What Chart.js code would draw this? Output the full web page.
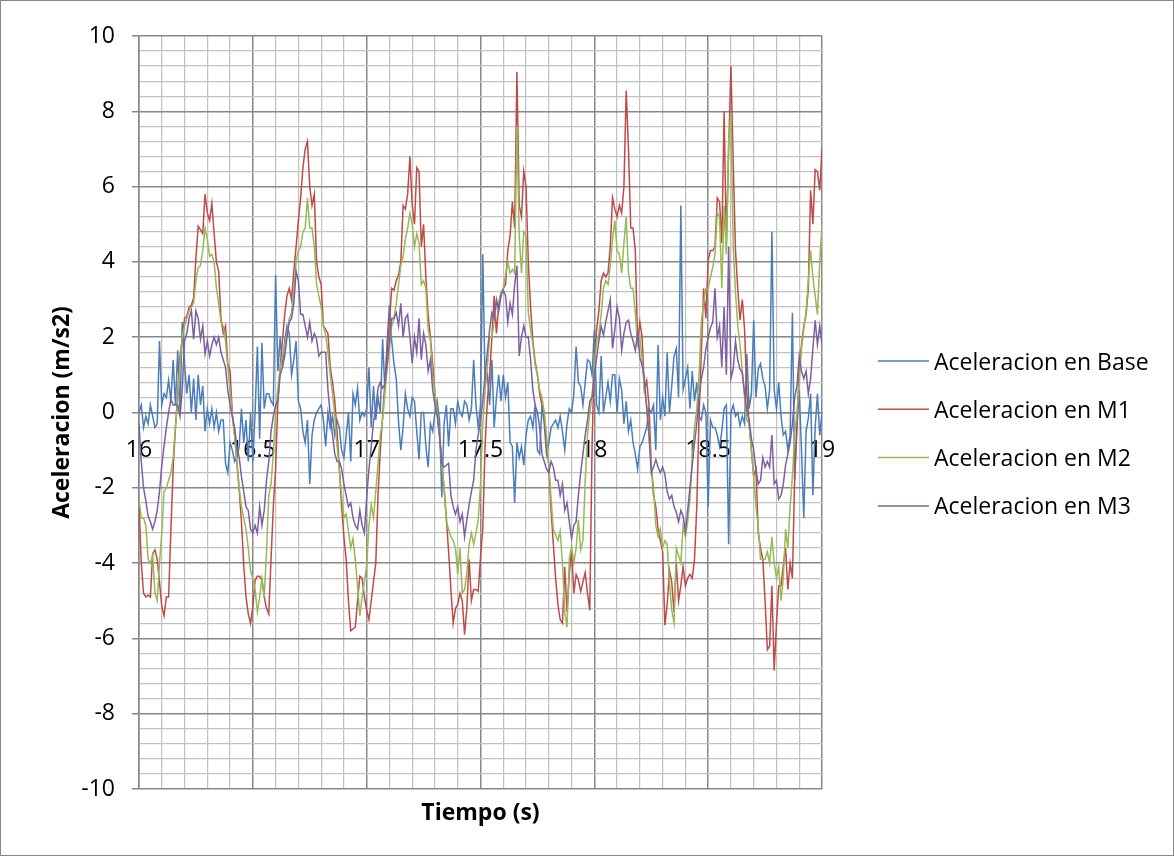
<!DOCTYPE html>
<html lang="es">
<head>
<meta charset="utf-8">
<title>Aceleracion</title>
<script src="https://cdn.jsdelivr.net/npm/chart.js@4.4.1/dist/chart.umd.min.js"></script>
<style>
  html, body { margin: 0; padding: 0; background: #fff; }
  #wrap { width: 1174px; height: 856px; position: relative; }
</style>
</head>
<body>
<div id="wrap"><canvas id="accelChart"></canvas></div>
<script>
/* ===============================
   DATA (sampled every 0.01 s, 16.00 .. 19.00 s)
================================ */
const t0 = 16;
const dt = 0.01;

const seriesNames = ["Aceleracion en Base", "Aceleracion en M1", "Aceleracion en M2", "Aceleracion en M3"];
const seriesColors = ["#4A7EBB", "#BE4B48", "#98B954", "#7D60A0"];

const xTicksMajor = [16, 16.5, 17, 17.5, 18, 18.5, 19];
const yTicksMajor = [-10, -8, -6, -4, -2, 0, 2, 4, 6, 8, 10];

const accBase = [
  0.0, 0.2, -0.4, -0.1, -0.3, 0.2, -0.1, -0.4, -0.3, 1.9,
  0.2, 0.5, 0.4, 0.85, 0.3, 1.4, 0.2, 1.65, 0.0, 2.4,
  1.3, 0.5, 1.0, 0.0, 0.9, -0.2, 1.0, 0.2, 0.7, -0.5,
  0.1, -0.3, 0.1, -0.4, 0.0, -0.5, -0.2, -0.2, -1.35, -1.6,
  -0.8, -1.0, -1.3, -1.2, -0.9, 0.1, -0.8, -0.2, -1.3, 0.0,
  -1.3, 0.0, 1.75, -0.7, 1.85, 0.1, 0.5, 0.5, 0.3, 0.2,
  3.65, 1.1, 2.0, 1.2, 1.9, 2.3, 2.1, 1.0, 1.4, 1.9,
  0.3, 0.1, -0.5, -0.8, -0.2, -1.9, -0.6, -0.2, 0.0, 0.1,
  0.2, -0.2, -0.9, 0.0, -0.4, -0.1, -0.6, -0.2, -0.4, -1.0,
  -1.2, -0.6, 0.0, -1.3, 0.5, 0.2, 0.65, -0.2, 0.0, -0.1,
  0.1, 1.2, -0.4, 0.7, -0.2, 0.4, 0.0, 1.95, 0.6, 1.9,
  2.85, 1.9, 1.3, 0.9, -0.25, -1.0, -0.4, 0.5, 0.1, -0.1,
  0.4, 0.3, -0.5, -1.25, 0.0, 0.0, -0.9, -1.45, -0.3, -0.5,
  0.0, 0.3, -0.2, -2.25, -0.3, 0.2, -0.9, 0.1, 0.1, -0.3,
  0.3, 0.0, -0.1, 0.3, 0.2, -0.2, 0.1, 1.4, 0.2, -0.4,
  0.2, 4.2, 0.8, 1.0, 0.2, 1.4, -0.4, 0.4, 1.0, 0.3,
  1.0, 0.4, 0.8, -0.8, -0.9, -2.4, -0.8, -1.2, -0.9, -1.4,
  -0.6, -0.2, -0.1, -0.4, 0.2, -1.0, -1.1, 0.2, -0.3, -1.1,
  -0.8, -0.4, -0.3, -0.2, -0.4, -0.1, -0.5, -1.0, -0.3, 0.1,
  0.0, 0.5, 1.75, 0.8, 0.7, 0.2, 0.8, 1.4, 1.35, 1.0,
  2.2, 0.2, 0.0, 1.5, 0.0, 0.4, 0.8, 0.3, 1.0, 1.0,
  0.0, 0.9, 0.6, -0.3, 0.3, -0.5, -0.2, -0.8, -1.1, -1.5,
  -0.9, -0.8, -0.6, -0.4, 0.1, 0.0, 0.2, -1.0, 1.8, -0.2,
  0.4, -0.1, 1.6, 0.0, 0.7, 1.5, 1.7, 0.4, 5.5, 0.6,
  0.9, 1.2, 0.1, 1.1, 0.3, 0.8, -0.1, -0.2, 0.2, 0.0,
  -2.5, -0.2, -0.4, -0.4, -0.6, -0.9, -0.5, 0.1, 0.2, -3.5,
  0.0, 0.2, -0.1, 0.0, -0.35, -0.1, -0.3, 1.55, 0.1, 0.5,
  2.45, 0.4, 1.15, 1.3, 0.9, 0.7, 0.1, 0.6, 4.8, 0.6,
  0.1, 0.8, -0.1, -0.6, -0.5, -1.0, -0.6, 2.65, -1.8, -0.4,
  0.6, -1.0, -2.8, -0.5, -0.15, 0.5, -2.2, -0.4, 0.5, -0.6,
  0.0
];

const accM1 = [
  -2.4, -4.0, -4.8, -4.9, -4.85, -4.9, -3.75, -3.65, -3.9, -4.5,
  -5.15, -5.4, -4.9, -4.9, -3.15, -1.5, -0.4, 0.5, 1.5, 1.95,
  2.5, 2.55, 2.8, 2.85, 3.05, 4.1, 4.95, 4.85, 4.75, 5.8,
  5.3, 5.1, 5.55, 4.75, 4.0, 3.75, 2.5, 2.1, 2.3, 1.3,
  1.1, -0.05, -0.6, -1.35, -2.05, -2.9, -4.05, -4.9, -5.35, -5.6,
  -5.15, -4.45, -4.35, -4.35, -4.45, -4.9, -5.2, -5.35, -3.9, -2.5,
  -1.5, 0.3, 1.2, 1.9, 2.6, 3.1, 3.3, 3.0, 3.75, 4.4,
  5.1, 5.7, 6.5, 7.0, 7.2, 6.0, 5.5, 5.8, 4.0, 3.6,
  3.4, 2.3, 2.2, 2.1, 1.2, 0.8, 0.3, -0.5, -1.5, -2.5,
  -3.3, -3.9, -5.0, -5.8, -5.75, -5.7, -5.0, -4.35, -4.4, -4.9,
  -5.25, -5.5, -5.0, -4.5, -4.0, -2.2, -1.0, -0.1, 0.8, 1.6,
  2.4, 3.3, 3.25, 3.5, 3.65, 4.0, 5.5, 5.4, 5.8, 6.8,
  5.5, 5.0, 6.5, 6.4, 4.4, 5.0, 3.6, 2.6, 2.0, 1.3,
  0.5, 0.0, -0.6, -1.35, -2.0, -2.8, -3.7, -4.7, -5.6, -5.2,
  -5.1, -4.8, -5.0, -5.9, -5.2, -3.9, -5.0, -4.7, -4.7, -4.75,
  -3.85, -3.1, -0.9, 0.3, 1.0, 2.0, 3.1, 2.1, 2.85, 3.1,
  3.3, 3.4, 4.3, 4.7, 5.6, 4.9, 9.05, 5.5, 5.2, 6.4,
  6.0, 4.0, 2.8, 1.9, 1.35, 1.0, 0.5, 0.2, 0.0, -0.9,
  -1.4, -2.6, -3.5, -4.4, -5.1, -5.5, -5.6, -4.1, -5.3, -4.3,
  -3.65, -4.8, -4.3, -4.45, -4.75, -4.5, -4.25, -4.8, -5.25, -0.9,
  1.4, 2.2, 2.7, 3.5, 3.7, 3.6, 3.7, 4.4, 5.7, 5.4,
  5.2, 5.5, 5.3, 6.0, 8.55, 7.0, 4.9, 4.9, 4.3, 1.85,
  2.4, 2.0, 0.6, 0.85, 0.2, -1.4, -2.2, -2.5, -3.1, -3.4,
  -3.7, -5.65, -5.1, -4.2, -4.5, -5.3, -4.0, -5.0, -4.6, -4.1,
  -4.6, -4.4, -4.3, -4.4, -3.9, -2.5, -0.1, 1.6, 3.3, 2.5,
  4.05, 4.3, 4.3, 4.4, 5.7, 5.6, 4.5, 8.0, 4.5, 7.0,
  9.2, 6.65, 4.3, 3.3, 2.45, 3.0, 2.2, 0.5, -0.3, -1.0,
  -1.7, -1.5, -3.2, -3.6, -3.9, -5.0, -6.3, -6.2, -4.6, -6.85,
  -5.6, -4.6, -4.6, -4.05, -3.6, -4.7, -4.0, -4.4, -1.7, -0.3,
  1.2, 1.8, 2.3, 2.6, 3.3, 5.9, 5.0, 6.45, 6.4, 5.9,
  7.0
];

const accM2 = [
  -2.3, -2.8, -2.8, -3.0, -3.9, -4.0, -3.8, -4.8, -5.0, -4.0,
  -3.2, -2.1, -2.0, -1.8, -1.6, -1.2, -0.4, 0.3, 1.3, 2.0,
  2.3, 2.5, 2.7, 2.8, 2.9, 3.5, 3.85, 3.9, 4.3, 4.9,
  4.6, 4.15, 4.2, 4.0, 3.3, 2.9, 2.4, 2.3, 1.9, 1.2,
  0.6, -0.1, -0.6, -1.3, -2.0, -2.5, -2.8, -3.1, -3.6, -4.2,
  -4.4, -4.7, -5.3, -4.9, -4.4, -4.9, -3.7, -2.2, -1.9, -1.1,
  0.0, 0.6, 1.2, 1.5, 1.8, 2.1, 2.5, 2.65, 3.2, 4.0,
  4.3, 4.4, 4.8, 4.9, 5.7, 4.9, 4.9, 4.4, 3.4, 3.1,
  2.8, 2.3, 2.05, 1.6, 1.0, 0.5, -0.1, -0.9, -1.5, -2.2,
  -2.8, -2.7, -3.15, -3.6, -3.35, -3.9, -4.6, -5.4, -4.9, -4.5,
  -4.05, -3.0, -2.45, -2.8, -2.1, -1.35, -0.6, -0.2, 0.5, 1.2,
  1.7, 2.3, 2.5, 2.9, 3.4, 3.9, 4.15, 4.6, 4.9, 5.3,
  5.0, 4.4, 4.75, 4.5, 3.4, 3.5, 3.3, 2.2, 1.9, 1.0,
  0.5, 0.0, -0.6, -1.35, -2.0, -2.9, -3.1, -3.3, -3.4, -3.6,
  -4.3, -3.6, -4.8, -4.7, -4.25, -3.5, -3.2, -3.5, -3.2, -2.85,
  -1.9, -0.3, 0.6, 1.2, 2.0, 2.0, 2.4, 2.9, 2.95, 3.2,
  3.3, 3.65, 4.0, 3.7, 3.8, 3.7, 7.6, 4.7, 3.7, 4.8,
  4.7, 2.65, 2.2, 1.8, 1.25, 1.0, 0.6, 0.4, 0.0, -0.6,
  -1.4, -2.3, -3.1, -3.25, -3.4, -3.15, -4.0, -5.3, -5.7, -3.9,
  -3.55, -4.0, -3.6, -2.85, -3.65, -3.4, -1.8, -0.6, 0.0, 0.4,
  1.3, 1.85, 2.1, 2.6, 3.3, 3.5, 3.4, 3.9, 4.6, 5.1,
  4.3, 4.2, 3.7, 4.5, 5.2, 3.7, 3.3, 3.3, 2.65, 1.8,
  2.0, 1.4, 0.6, 0.2, -0.5, -1.4, -2.0, -3.0, -3.3, -3.1,
  -3.6, -3.4, -3.5, -4.5, -5.25, -5.6, -3.6, -3.8, -4.0, -3.0,
  -3.3, -2.9, -2.3, -1.2, -0.4, 0.1, 1.0, 2.4, 2.9, 3.3,
  3.3, 3.6, 3.85, 4.2, 5.3, 5.2, 3.3, 5.5, 4.2, 7.2,
  7.95, 4.4, 3.2, 2.3, 1.8, 1.1, 0.4, -0.2, -0.3, -1.0,
  -1.7, -2.5, -3.05, -3.9, -3.9, -3.9, -3.7, -4.0, -3.3, -4.0,
  -4.4, -4.1, -5.0, -4.4, -3.1, -3.6, -2.5, -1.7, -0.6, 0.0,
  0.8, 1.7, 2.2, 2.7, 3.5, 4.3, 3.6, 3.1, 2.6, 4.0,
  5.0
];

const accM3 = [
  -0.3, -1.3, -2.0, -2.35, -2.75, -2.9, -3.1, -2.9, -2.6, -2.1,
  -1.4, -0.9, -0.4, 0.0, 0.35, 0.2, 0.2, 0.2, -0.1, 0.6,
  1.9, 2.1, 2.5, 2.7, 1.95, 2.7, 2.5, 1.95, 2.3, 1.55,
  1.9, 1.5, 1.8, 2.0, 1.8, 2.0, 1.6, 1.4, 1.2, 0.6,
  0.2, -0.1, -0.4, -0.9, -1.2, -1.7, -2.1, -2.5, -2.6, -3.1,
  -3.2, -3.0, -3.2, -2.5, -3.0, -2.6, -1.8, -1.3, -0.5, -0.1,
  0.2, 0.3, 1.0, 1.2, 1.5, 2.0, 2.4, 2.5, 2.9, 3.75,
  3.5, 2.6, 2.6, 2.3, 2.0, 2.4, 1.9, 2.1, 1.95, 1.5,
  1.6, 1.6, 1.6, 0.6, -0.05, -0.6, -1.1, -1.3, -1.3, -1.5,
  -1.9, -2.2, -2.5, -2.4, -2.8, -3.0, -3.1, -2.6, -3.0, -3.2,
  -2.25, -1.5, -0.9, -0.25, 0.1, 0.65, 0.8, 0.65, 0.75, 1.3,
  1.9, 2.5, 2.5, 2.65, 2.3, 2.9, 2.0, 2.5, 2.6, 2.0,
  1.3, 2.0, 1.6, 2.5, 1.4, 2.1, 1.8, 1.1, 1.4, 0.6,
  0.2, -0.1, -0.6, -1.35, -1.45, -1.4, -1.35, -2.2, -2.5, -2.7,
  -2.5, -2.9, -2.7, -3.3, -2.85, -2.45, -2.1, -1.8, -1.0, -0.6,
  -0.2, 0.3, 1.0, 1.6, 2.2, 2.65, 2.5, 3.0, 2.7, 3.1,
  3.25, 3.1, 2.4, 2.9, 2.6, 3.4, 3.9, 1.5, 2.0, 2.3,
  2.0, 2.0, 1.4, 0.6, 0.2, 0.0, -0.4, -1.1, -1.3, -1.5,
  -1.6, -1.3, -1.45, -1.8, -1.8, -2.2, -1.9, -2.6, -2.4, -2.9,
  -3.35, -3.0, -2.9, -2.2, -1.6, -1.1, -0.6, -0.2, 0.3, 0.4,
  1.0, 1.45, 1.9, 2.3, 2.05, 2.4, 2.7, 3.0, 1.7, 2.2,
  2.8, 2.5, 1.65, 2.1, 2.4, 2.45, 2.1, 1.9, 1.65, 2.1,
  1.45, 1.25, 0.9, 0.1, -0.6, -1.6, -1.45, -1.25, -1.45, -1.6,
  -1.45, -1.65, -2.1, -2.3, -2.2, -2.5, -2.65, -2.9, -2.6, -2.75,
  -3.15, -2.6, -2.0, -1.4, -0.8, -0.3, 0.4, 0.9, 1.2, 1.7,
  2.0, 2.25, 2.4, 3.3, 2.0, 2.3, 1.2, 2.8, 1.0, 4.4,
  0.9, 1.15, 1.9, 1.4, 1.15, 1.05, 0.5, 0.05, -0.2, -0.7,
  -1.0, -1.5, -1.9, -1.8, -1.2, -1.45, -1.3, -1.45, -0.6, -1.9,
  -1.8, -2.3, -2.2, -1.9, -1.4, -1.1, -0.8, -0.3, 0.4, 0.7,
  1.5, 1.1, 0.9, 1.1, 0.5, 0.9, 1.7, 2.45, 1.8, 2.3,
  1.8
];

/* ===============================
   HELPERS
================================ */
const FONT = '"Open Sans", "Liberation Sans", sans-serif';
const tiempo = accBase.map((_, i) => +(t0 + i * dt).toFixed(2));

function toPoints(values) {
    return values.map((v, i) => ({ x: tiempo[i], y: v }));
}

function isMajor(value, list) {
    return list.some(m => Math.abs(m - value) < 1e-6);
}

/* ===============================
   FRAME, X TITLE AND LEGEND
================================ */
const chartFrame = {
    id: "chartFrame",
    beforeDraw(chart) {
        const ctx = chart.ctx;
        ctx.save();
        ctx.fillStyle = "#ffffff";
        ctx.fillRect(0, 0, chart.width, chart.height);
        ctx.restore();
    },
    afterDraw(chart) {
        const ctx = chart.ctx;
        const area = chart.chartArea;
        ctx.save();

        // outer border of the chart
        ctx.strokeStyle = "#868686";
        ctx.lineWidth = 1;
        ctx.strokeRect(0.5, 0.5, chart.width - 1, chart.height - 1);

        // x axis title under the plot
        ctx.fillStyle = "#000";
        ctx.font = "bold 23px " + FONT;
        ctx.textAlign = "center";
        ctx.textBaseline = "alphabetic";
        ctx.fillText("Tiempo (s)", (area.left + area.right) / 2, 820);

        // legend on the right
        ctx.font = "23px " + FONT;
        ctx.textAlign = "left";
        chart.data.datasets.forEach((ds, i) => {
            const y = 361 + i * 48.3;
            ctx.strokeStyle = ds.borderColor;
            ctx.lineWidth = 1.5;
            ctx.beginPath();
            ctx.moveTo(878, y);
            ctx.lineTo(929, y);
            ctx.stroke();
            ctx.fillStyle = "#000";
            ctx.fillText(ds.label, 934, y + 8.5);
        });
        ctx.restore();
    }
};

/* ===============================
   CHART
================================ */
const allSeries = [accBase, accM1, accM2, accM3];

new Chart(document.getElementById("accelChart").getContext("2d"), {
    type: "line",
    data: {
        datasets: allSeries.map((values, i) => ({
            label: seriesNames[i],
            data: toPoints(values),
            borderColor: seriesColors[i],
            backgroundColor: seriesColors[i],
            borderWidth: 1.5,
            pointRadius: 0,
            tension: 0,
            fill: false,
            order: allSeries.length - i
        }))
    },
    options: {
        responsive: true,
        maintainAspectRatio: false,
        animation: false,
        events: [],
        layout: { padding: { top: 36, right: 352, bottom: 67, left: 0 } },
        plugins: {
            legend: { display: false },
            tooltip: { enabled: false }
        },
        scales: {
            x: {
                type: "linear",
                min: 16,
                max: 19,
                position: { y: 0 },
                afterFit: scale => { scale.height = 0; },
                ticks: {
                    stepSize: 0.1,
                    autoSkip: false,
                    maxTicksLimit: 200,
                    maxRotation: 0,
                    padding: 24,
                    color: "#000",
                    font: { family: FONT, size: 23 },
                    callback: value => isMajor(value, xTicksMajor) ? String(Math.round(value * 10) / 10) : ""
                },
                grid: {
                    drawTicks: false,
                    color: ctx => isMajor(ctx.tick.value, xTicksMajor) ? "#878787" : "#c2c2c2",
                    lineWidth: ctx => isMajor(ctx.tick.value, xTicksMajor) ? 1.5 : 1.25
                },
                border: { color: "#878787", width: 1.5 }
            },
            y: {
                min: -10,
                max: 10,
                afterFit: scale => { scale.width = 139; },
                ticks: {
                    stepSize: 0.4,
                    autoSkip: false,
                    maxTicksLimit: 200,
                    padding: 17,
                    color: "#000",
                    font: { family: FONT, size: 23 },
                    callback: value => isMajor(value, yTicksMajor) ? String(Math.round(value)) : ""
                },
                grid: {
                    tickLength: 7,
                    color: ctx => isMajor(ctx.tick.value, yTicksMajor) ? "#878787" : "#c2c2c2",
                    tickColor: ctx => isMajor(ctx.tick.value, yTicksMajor) ? "#878787" : "rgba(0,0,0,0)",
                    lineWidth: ctx => isMajor(ctx.tick.value, yTicksMajor) ? 1.5 : 1.25
                },
                border: { color: "#878787", width: 1.5 },
                title: {
                    display: true,
                    text: "Aceleracion (m/s2)",
                    color: "#000",
                    font: { family: FONT, size: 23, weight: "bold" },
                    padding: { top: 49, bottom: 0 }
                }
            }
        }
    },
    plugins: [chartFrame]
});
</script>
</body>
</html>
